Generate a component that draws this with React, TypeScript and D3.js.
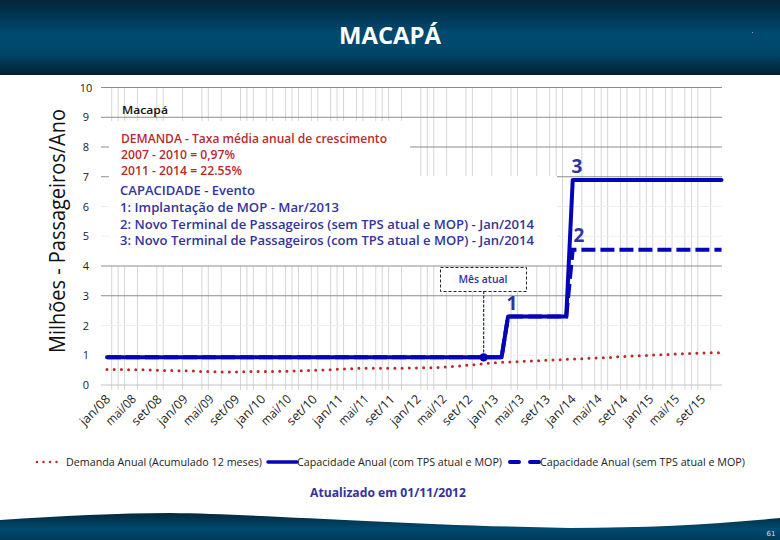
import React from "react";
import * as d3 from "d3";

const W = 780, H = 540;
const yTicks = [0, 1, 2, 3, 4, 5, 6, 7, 8, 9, 10];
const strongGrid = [3, 4, 7, 8, 9, 10];
const monthNames = ["jan", "fev", "mar", "abr", "mai", "jun", "jul", "ago", "set", "out", "nov", "dez"];
const years = [8, 9, 10, 11, 12, 13, 14, 15];
const months = years.flatMap((y) => monthNames.map((m) => `${m}/${String(y).padStart(2, "0")}`));
const gridMonths = [0,1,2,4,7,8,11,14,15,17,20,21,22,24,25,27,28,29,31,32,34,35,36,38,39,41,42,43,45,48,49,50,52,55,56,59,62,63,66,68,69,70,73,75,76,77,79,80,82,83,84,86,87,89,90,91,93];
const demand = [
  0.52,0.52,0.52,0.52,0.51,0.51,0.51,0.50,0.50,0.49,0.49,0.48,
  0.48,0.47,0.46,0.45,0.45,0.44,0.44,0.44,0.44,0.44,0.45,0.45,
  0.45,0.45,0.46,0.46,0.46,0.47,0.48,0.49,0.49,0.50,0.51,0.52,
  0.53,0.54,0.55,0.56,0.56,0.56,0.56,0.56,0.56,0.56,0.56,0.57,
  0.57,0.58,0.58,0.59,0.60,0.61,0.63,0.65,0.67,0.69,0.71,0.73,
  0.75,0.76,0.77,0.78,0.79,0.80,0.81,0.82,0.83,0.84,0.85,0.86,
  0.87,0.88,0.89,0.90,0.91,0.92,0.93,0.95,0.96,0.97,0.98,0.99,
  1.00,1.01,1.02,1.03,1.04,1.05,1.06,1.07,1.07,1.08,1.08,1.09,
];
const capacityWith = months.map((_, i) => (i <= 61 ? 0.93 : i <= 71 ? 2.3 : 6.89));
const capacityWithout = months.map((_, i) => (i <= 61 ? 0.93 : i <= 71 ? 2.3 : 4.55));
const currentMonth = 58;
const redNotes = ["DEMANDA - Taxa média anual de crescimento", "2007 - 2010 = 0,97%", "2011 - 2014 = 22.55%"];
const blueNotes = ["CAPACIDADE - Evento", "1: Implantação de MOP - Mar/2013", "2: Novo Terminal de Passageiros (sem TPS atual e MOP) - Jan/2014", "3: Novo Terminal de Passageiros (com TPS atual e MOP) - Jan/2014"];
const redWidths = [266, 114, 121];
const blueWidths = [135, 219, 414, 414];

const x = d3.scaleLinear().domain([0, 95]).range([107, 721.5]);
const xGrid = d3.scaleLinear().domain([0, 93]).range([111.7, 710.7]);
const y = d3.scaleLinear().domain([0, 10]).range([385, 87.5]);
const line = d3.line<number>().x((_, i) => x(i)).y((d) => y(d));
const font = "'Open Sans', Lato, sans-serif";
const navy = "#33339c", red = "#b92b2b", blue = "#0505b8";

export default function App() {
  return (
    <svg width={W} height={H} style={{ position: "absolute", left: 0, top: 0, background: "#fff" }} fontFamily={font}>
      <defs>
        <linearGradient id="head" x1="0" x2="0" y1="0" y2="1">
          <stop offset="0" stopColor="#03263a" />
          <stop offset="0.45" stopColor="#004a70" />
          <stop offset="0.72" stopColor="#00466a" />
          <stop offset="1" stopColor="#03202f" />
        </linearGradient>
        <linearGradient id="foot" x1="0" x2="0" y1="0" y2="1">
          <stop offset="0" stopColor="#03283c" />
          <stop offset="0.6" stopColor="#004a70" />
          <stop offset="1" stopColor="#013a58" />
        </linearGradient>
      </defs>
      <rect width={W} height={75} fill="url(#head)" />
      <text x={390} y={44} textAnchor="middle" fill="#fff" fontSize={22.5} fontWeight={700} fontFamily="'Open Sans', sans-serif" textLength={102} lengthAdjust="spacingAndGlyphs">MACAPÁ</text>
      <rect x={752} y={32} width={1} height={1} fill="#99b" />
      <path d="M0,520 C60,516 120,513 170,513 C260,514 400,525 570,528 C650,528 720,524 780,518 L780,540 L0,540 Z" fill="url(#foot)" />
      <text x={771} y={536} textAnchor="middle" fill="#ddd" fontSize={7} fontFamily="'DejaVu Sans', sans-serif">61</text>

      {gridMonths.map((m) => (
        <line key={m} x1={xGrid(m)} x2={xGrid(m)} y1={y(10)} y2={390} stroke="#d6d6d6" strokeWidth={1} />
      ))}
      <rect x={109} y={121} width={301} height={55} fill="#fff" />
      <rect x={109} y={176} width={448} height={90} fill="#fff" />
      {yTicks.map((t) => (
        <g key={t}>
          <line x1={101} x2={722} y1={y(t)} y2={y(t)} stroke={strongGrid.includes(t) ? "#8c8c8c" : t === 0 ? "#c4c4c4" : "#eeeeee"} strokeWidth={1} />
          <text x={86} y={y(t) + 4} textAnchor="middle" fontSize={11} fill="#222">{t}</text>
        </g>
      ))}
      <rect x={109} y={121} width={301} height={54} fill="#fff" />
      <rect x={109} y={176} width={448} height={88} fill="#fff" />

      <text transform="translate(65,231) rotate(-90)" textAnchor="middle" fontSize={21} fontWeight={500} fill="#111" textLength={244} lengthAdjust="spacingAndGlyphs">Milhões - Passageiros/Ano</text>

      <text x={122} y={114} fontSize={11} fontWeight={600} fill="#111" textLength={46} lengthAdjust="spacingAndGlyphs">Macapá</text>
      {redNotes.map((s, i) => (
        <text key={s} x={121} y={143 + i * 16.2} fontSize={12.6} fontWeight={600} fill={red} textLength={redWidths[i]} lengthAdjust="spacingAndGlyphs">{s}</text>
      ))}
      {blueNotes.map((s, i) => (
        <text key={s} x={120} y={195 + i * 16.8} fontSize={12.6} fontWeight={600} fill={navy} textLength={blueWidths[i]} lengthAdjust="spacingAndGlyphs">{s}</text>
      ))}

      <rect x={440.5} y={267.5} width={86} height={24} fill="#fff" stroke="#223" strokeDasharray="3 2" />
      <text x={483} y={283} textAnchor="middle" fontSize={9.8} fontWeight={600} fill={navy} textLength={49} lengthAdjust="spacingAndGlyphs">Mês atual</text>
      <line x1={x(currentMonth) + 1.5} x2={x(currentMonth) + 1.5} y1={291} y2={y(capacityWith[currentMonth])} stroke="#1a2a80" strokeWidth={1.2} strokeDasharray="3 1.5" />

      <path d={line(demand) ?? ""} fill="none" stroke={red} strokeWidth={3} strokeLinecap="round" strokeDasharray="0 7.2" />
      <path d={line(capacityWithout) ?? ""} fill="none" stroke={blue} strokeWidth={4} strokeDasharray="14 5" />
      <path d={line(capacityWith) ?? ""} fill="none" stroke={blue} strokeWidth={4} strokeLinejoin="round" strokeLinecap="round" />
      <circle cx={x(currentMonth) + 1.5} cy={y(capacityWith[currentMonth])} r={4.2} fill={blue} />

      <text x={577} y={173} textAnchor="middle" fontSize={19} fontWeight={700} fill={navy}>3</text>
      <text x={579} y={242} textAnchor="middle" fontSize={19} fontWeight={700} fill={navy}>2</text>
      <text x={512} y={310} textAnchor="middle" fontSize={19} fontWeight={700} fill={navy}>1</text>

      {months.map((m, i) => (i % 4 === 0 ? (
        <text key={m} transform={`translate(${x(i) + 4},${400}) rotate(-45)`} textAnchor="end" fontSize={12.5} fontWeight={500} fill="#222" textLength={37} lengthAdjust="spacingAndGlyphs">{m}</text>
      ) : null))}

      <line x1={37} x2={62} y1={462} y2={462} stroke={red} strokeWidth={2.5} strokeLinecap="round" strokeDasharray="0 6.5" />
      <text x={66} y={466} fontSize={11} fontWeight={500} fill="#222" textLength={196} lengthAdjust="spacingAndGlyphs">Demanda Anual (Acumulado 12 meses)</text>
      <line x1={268} x2={297} y1={462} y2={462} stroke={blue} strokeWidth={3.5} strokeLinecap="round" />
      <text x={297} y={466} fontSize={11} fontWeight={500} fill="#222" textLength={205} lengthAdjust="spacingAndGlyphs">Capacidade Anual (com TPS atual e MOP)</text>
      <line x1={510} x2={540} y1={462} y2={462} stroke={blue} strokeWidth={4} strokeLinecap="round" strokeDasharray="9 11" />
      <text x={540} y={466} fontSize={11} fontWeight={500} fill="#222" textLength={205} lengthAdjust="spacingAndGlyphs">Capacidade Anual (sem TPS atual e MOP)</text>
      <text x={388} y={497} textAnchor="middle" fontSize={12} fontWeight={700} fill={navy} textLength={156} lengthAdjust="spacingAndGlyphs">Atualizado em 01/11/2012</text>
    </svg>
  );
}
